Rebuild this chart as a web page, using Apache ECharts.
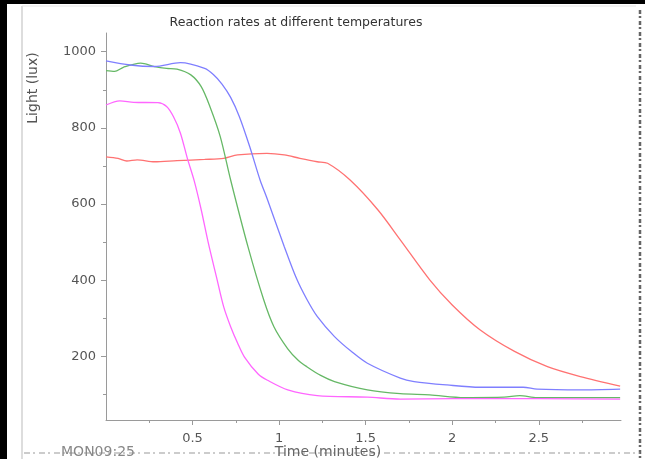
<!DOCTYPE html>
<html>
<head>
<meta charset="utf-8">
<style>
  html, body { margin: 0; padding: 0; background: #fff; }
  #chart { width: 645px; height: 459px; }
</style>
<script src="https://cdn.jsdelivr.net/npm/echarts@6/dist/echarts.min.js"></script>
</head>
<body>
<div id="chart"></div>
<script>
// time in minutes, light in lux
var blueTime  = [0.00, 0.14, 0.28, 0.43, 0.57, 0.62, 0.67, 0.72, 0.77, 0.83, 0.89, 0.93, 1.03, 1.10, 1.16, 1.22, 1.32, 1.42, 1.51, 1.70, 1.78, 1.97, 2.16, 2.41, 2.49, 2.74, 2.97];
var blueLight = [976, 965, 961, 971, 956, 940, 915, 880, 830, 751, 663, 615, 488, 405, 350, 305, 252, 212, 182, 143, 134, 125, 119, 119, 114, 112, 114];

var greenTime  = [0.00, 0.05, 0.10, 0.20, 0.28, 0.35, 0.41, 0.49, 0.55, 0.60, 0.66, 0.72, 0.82, 0.91, 0.97, 1.05, 1.11, 1.16, 1.24, 1.32, 1.51, 1.70, 1.87, 2.07, 2.30, 2.39, 2.49, 2.97];
var greenLight = [950, 948, 959, 970, 961, 956, 954, 939, 908, 856, 777, 663, 488, 350, 278, 220, 190, 173, 150, 134, 112, 102, 99, 92, 93, 97, 92, 92];

var pinkTime  = [0.00, 0.08, 0.16, 0.30, 0.35, 0.39, 0.43, 0.47, 0.51, 0.55, 0.59, 0.64, 0.68, 0.72, 0.76, 0.80, 0.88, 0.93, 1.05, 1.22, 1.51, 1.70, 2.00, 2.50, 2.97];
var pinkLight = [860, 871, 867, 866, 856, 829, 786, 720, 660, 585, 500, 405, 330, 278, 235, 198, 153, 138, 112, 97, 93, 88, 89, 89, 88];

var redTime  = [0.00, 0.07, 0.12, 0.18, 0.28, 0.41, 0.57, 0.68, 0.76, 0.93, 1.03, 1.12, 1.22, 1.28, 1.41, 1.57, 1.70, 1.87, 2.00, 2.16, 2.36, 2.55, 2.74, 2.97];
var redLight = [724, 720, 713, 716, 711, 714, 717, 720, 729, 733, 729, 720, 711, 707, 663, 585, 506, 401, 335, 270, 213, 173, 147, 122];

var xMajor = [0.5, 1, 1.5, 2, 2.5];
var xMinor = [0.25, 0.75, 1.25, 1.75, 2.25, 2.75];
var yMajor = [200, 400, 600, 800, 1000];
var yMinor = [100, 300, 500, 700, 900];

function pairs(t, v) {
  return t.map(function (x, i) { return [x, v[i]]; });
}

var chart = echarts.init(document.getElementById('chart'));
var axisGrey = '#9a9a9a';
var labelStyle = { color: '#555', fontSize: 13, fontFamily: 'DejaVu Sans' };

function line(name, color, t, v) {
  return {
    name: name,
    type: 'line',
    smooth: 0.3,
    symbol: 'none',
    lineStyle: { color: color, width: 1.3 },
    data: pairs(t, v)
  };
}

var option = {
  animation: false,
  title: {
    text: 'Reaction rates at different temperatures',
    left: 291,
    top: 11,
    textAlign: 'center',
    textStyle: { fontSize: 12.5, fontWeight: 'normal', color: '#333', fontFamily: 'DejaVu Sans' }
  },
  grid: { left: 106, top: 33, right: 24, bottom: 39 },
  xAxis: [{
    type: 'value', min: 0, max: 2.975,
    splitLine: { show: false },
    axisLine: { lineStyle: { color: axisGrey } },
    axisTick: { customValues: xMajor, length: 5, lineStyle: { color: axisGrey } },
    axisLabel: { customValues: xMajor, margin: 12, ...labelStyle }
  }, {
    type: 'value', min: 0, max: 2.975, position: 'bottom',
    splitLine: { show: false },
    axisLine: { show: false },
    axisTick: { customValues: xMinor, length: 3, lineStyle: { color: axisGrey } },
    axisLabel: { show: false }
  }],
  yAxis: [{
    type: 'value', min: 33, max: 1049,
    splitLine: { show: false },
    axisLine: { show: true, lineStyle: { color: axisGrey } },
    axisTick: { show: true, customValues: yMajor, length: 5, lineStyle: { color: axisGrey } },
    axisLabel: { customValues: yMajor, margin: 10, formatter: function (v) { return String(v); }, ...labelStyle }
  }, {
    type: 'value', min: 33, max: 1049, position: 'left',
    splitLine: { show: false },
    axisLine: { show: false },
    axisTick: { show: true, customValues: yMinor, length: 3, lineStyle: { color: axisGrey } },
    axisLabel: { show: false }
  }],
  graphic: [
    { type: 'rect', shape: { x: 0, y: 0, width: 7, height: 459 }, style: { fill: '#000' } },
    { type: 'rect', shape: { x: 0, y: 0, width: 645, height: 4 }, style: { fill: '#000' } },
    { type: 'line', shape: { x1: 22, y1: 6, x2: 22, y2: 459 }, style: { stroke: '#bbb', lineWidth: 1 } },
    { type: 'line', shape: { x1: 22, y1: 6, x2: 636, y2: 6 }, style: { stroke: '#e4e4e4', lineWidth: 1 } },
    { type: 'line', shape: { x1: 640, y1: 10, x2: 640, y2: 459 }, style: { stroke: '#666', lineWidth: 2.5, lineDash: [4, 2, 2, 3] } },
    { type: 'line', shape: { x1: 24, y1: 453, x2: 640, y2: 453 }, style: { stroke: '#999', lineWidth: 1.2, lineDash: [6, 3, 2, 4] } },
    { type: 'text', x: 33, y: 88, rotation: Math.PI / 2,
      style: { text: 'Light (lux)', fill: '#555', fontSize: 14, fontFamily: 'DejaVu Sans', align: 'center', verticalAlign: 'middle' } },
    { type: 'text', x: 328, y: 452,
      style: { text: 'Time (minutes)', fill: '#666', fontSize: 14, fontFamily: 'DejaVu Sans', align: 'center', verticalAlign: 'middle' } },
    { type: 'text', x: 98, y: 452,
      style: { text: 'MON09:25', fill: '#888', fontSize: 14, fontFamily: 'DejaVu Sans', align: 'center', verticalAlign: 'middle' } }
  ],
  series: [
    line('red', '#ff7272', redTime, redLight),
    line('green', '#66b866', greenTime, greenLight),
    line('blue', '#7f7fff', blueTime, blueLight),
    line('magenta', '#ff66ff', pinkTime, pinkLight)
  ]
};

option && chart.setOption(option);
</script>
</body>
</html>
